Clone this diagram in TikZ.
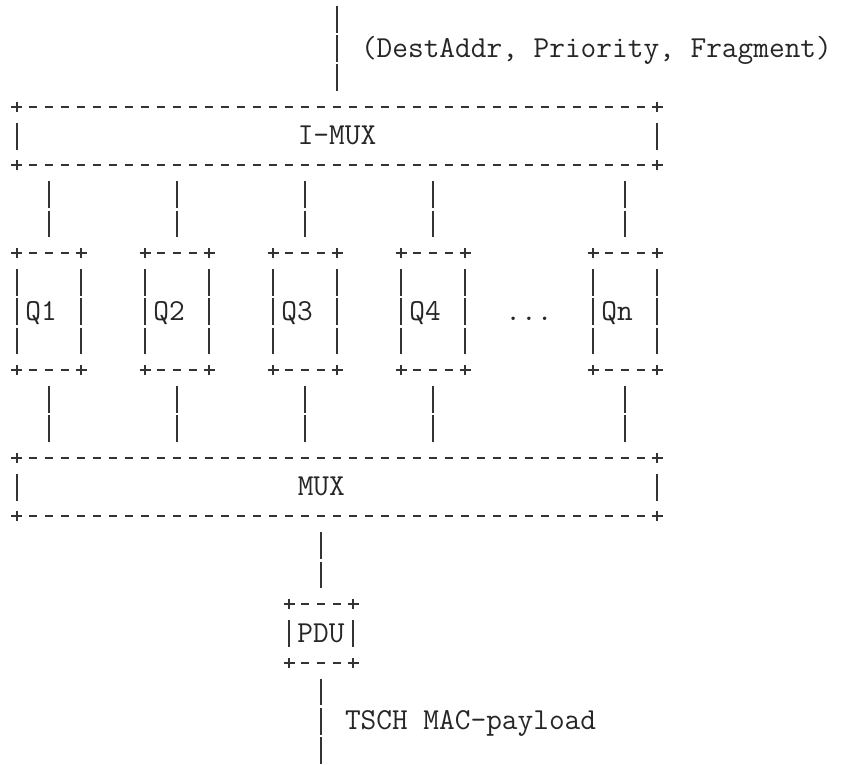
\documentclass[tikz,border=0pt]{standalone}
\usepackage{fontspec}
\tikzset{
  ink/.style={draw=black!80, line width=1pt},
  hdash/.style={ink, dash pattern=on 4.4pt off 3.6pt},
  vbar/.style={ink, dash pattern=on 13.455pt off 1.17pt},
  link/.style={vbar, shorten <=7.9pt, shorten >=7.9pt},
  lbl/.style={
    font=\ttfamily\fontsize{15.238pt}{18pt}\selectfont,
    text=black!85,
    inner sep=0pt,
    outer sep=0pt,
    text height=8.6pt,
    text depth=0pt
  },
  frame/.style={lbl, minimum height=29.25pt},
  wide/.style={frame, minimum width=320pt},
  queue/.style={frame, minimum width=32pt, minimum height=58.5pt},
  small/.style={frame, minimum width=32pt}
}

\begin{document}
\begin{tikzpicture}[x=8pt, y=-14.625pt]
    \useasboundingbox (-1.0625,-0.658) rectangle (51.5,25.496);

    \coordinate (src) at (20,-1);
    \node [lbl, anchor=west] (attr) at (21.5,1) {(DestAddr, Priority, Fragment)};

    \node [wide] (imux) at (20,4) {I-MUX};

    \foreach \i/\x in {1/2, 2/10, 3/18, 4/26}
      \node [queue] (q\i) at (\x,10) {Q\i\hphantom{0}};
    \node [queue] (qn) at (38,10) {Qn\hphantom{0}};
    \node [lbl] (dots) at (32,10) {...};

    \node [wide] (mux) at (20,16) {MUX\hphantom{00}};
    \node [small] (pdu) at (19,21) {PDU};

    \coordinate (sink) at (19,26);
    \node [lbl, anchor=west] (payload) at (20.5,24) {TSCH MAC-payload};

    % ascii style frames
    \foreach \b in {imux,q1,q2,q3,q4,qn,mux,pdu} {
      \draw [hdash] ([xshift=5.8pt]\b.north west) -- ([xshift=-5.8pt]\b.north east);
      \draw [hdash] ([xshift=5.8pt]\b.south west) -- ([xshift=-5.8pt]\b.south east);
      \draw [vbar] ([yshift=-7.9pt]\b.north west) -- ([yshift=7.9pt]\b.south west);
      \draw [vbar] ([yshift=-7.9pt]\b.north east) -- ([yshift=7.9pt]\b.south east);
      \foreach \c in {north west,north east,south west,south east}
        \draw [ink] ([xshift=-2.75pt]\b.\c) -- ([xshift=2.75pt]\b.\c)
                    ([yshift=-2.5pt]\b.\c) -- ([yshift=2.5pt]\b.\c);
    }

    \draw [link] (src) -- (imux.north -| src);
    \foreach \q in {q1,q2,q3,q4,qn} {
      \draw [link] (imux.south -| \q) -- (\q);
      \draw [link] (\q) -- (\q |- mux.north);
    }
    \draw [link] (mux.south -| pdu) -- (pdu);
    \draw [link] (pdu) -- (sink);
\end{tikzpicture}
\end{document}
